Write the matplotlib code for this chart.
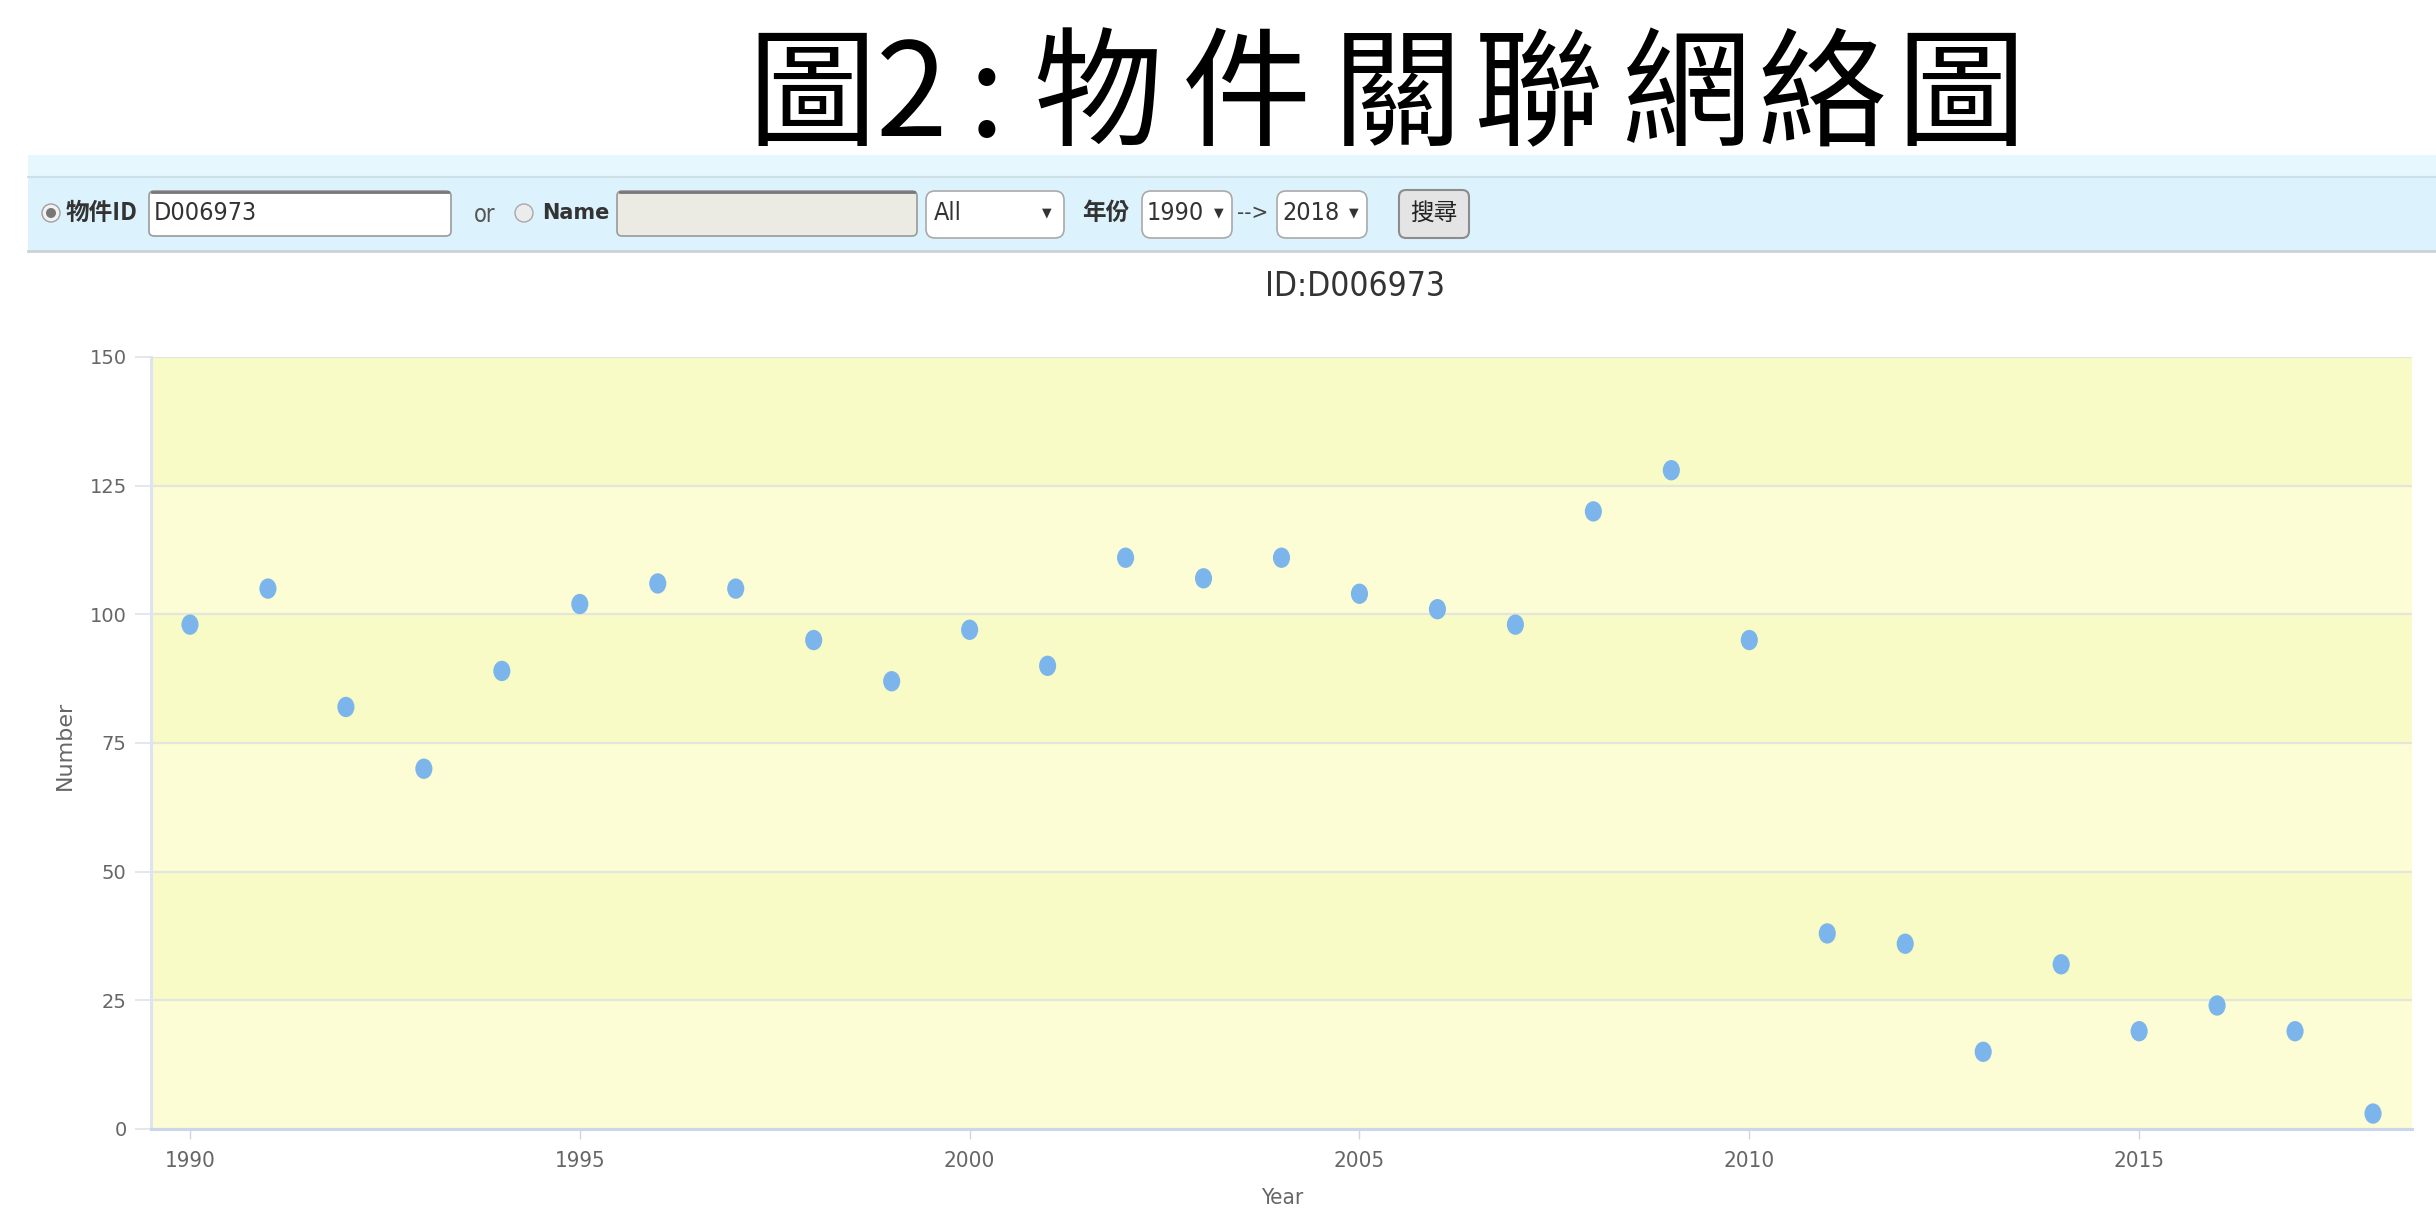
import matplotlib
matplotlib.use('Agg')
import matplotlib.pyplot as plt
from matplotlib import font_manager
from matplotlib.patches import FancyBboxPatch, Rectangle, Circle
from matplotlib.path import Path
from matplotlib.transforms import Affine2D

# data
years = list(range(1990, 2019))
counts = [98, 105, 82, 70, 89, 102, 106, 105, 95, 87, 97, 90, 111, 107, 111,
          104, 101, 98, 120, 128, 95, 38, 36, 15, 32, 19, 24, 19, 3]
y_ticks = [0, 25, 50, 75, 100, 125, 150]
x_ticks = [1990, 1995, 2000, 2005, 2010, 2015]

page_title = '圖2:物件關聯網絡圖'
chart_title = 'ID:D006973'
object_id = 'D006973'
category = 'All'
year_from = '1990'
year_to = '2018'

W, H = 2436, 1209
CJK = ['Noto Sans CJK TC', 'DejaVu Sans']

# look for a narrow upright latin face, the screenshot text is condensed
narrow_file = None
for f in font_manager.fontManager.ttflist:
    is_narrow = ('Narrow' in f.name or 'Condensed' in f.name or
                 f.stretch in ('condensed', 'semi-condensed'))
    if is_narrow and f.style == 'normal' and f.weight in (400, 'normal', 'regular', 'book'):
        narrow_file = f.fname
        break
if narrow_file:
    NARROW = font_manager.FontProperties(fname=narrow_file)
    tick_size, shrink = 16, 1.0
else:
    NARROW = font_manager.FontProperties(family='DejaVu Sans')
    tick_size, shrink = 13, 0.85

fig = plt.figure(figsize=(W / 100, H / 100), dpi=100)

# overlay in pixel coords (y down) for the page / toolbar
ui = fig.add_axes([0, 0, 1, 1])
ui.set_xlim(0, W)
ui.set_ylim(H, 0)
ui.set_axis_off()


def box(x0, y0, x1, y1, fc, ec, r=6, lw=1.2):
    ui.add_patch(FancyBboxPatch((x0, y0), x1 - x0, y1 - y0,
                                boxstyle='round,pad=0,rounding_size=%d' % r,
                                fc=fc, ec=ec, lw=lw))


def ntext(x, y, s, size, **kw):
    p = NARROW.copy()
    p.set_size(size * shrink)
    ui.text(x, y, s, fontproperties=p, va='center', **kw)


# big page title, glyphs placed one by one (screenshot is stretched)
title_x = [812, 912, 986, 1098, 1246, 1397, 1538, 1686, 1822, 1961]
for ch, cx in zip(page_title, title_x):
    ui.text(cx, 100, ch, family=CJK, fontsize=93, color='black',
            ha='center', va='center')

# toolbar band
ui.add_patch(Rectangle((28, 155), W - 28, 97, fc='#dcf2fc', ec='none'))
ui.add_patch(Rectangle((28, 155), W - 28, 22, fc='#e6f7fe', ec='none'))
ui.plot([28, W], [177, 177], color='#cde0e8', lw=1.5)
ui.plot([28, W], [251, 251], color='#c9d3d8', lw=2)

ty = 213
# radio (selected)
ui.add_patch(Circle((51, ty), 9, fc='#f2f2f2', ec='#a0a0a0', lw=1))
ui.add_patch(Circle((51, ty), 5, fc='#777777', ec='none'))
ui.text(66, ty, '物件ID', family=CJK, fontsize=17, fontweight='bold',
        color='#333333', va='center')
box(149, 191, 451, 236, 'white', '#9a9a9a', r=5)
ui.plot([152, 448], [192, 192], color='#777777', lw=2)
ntext(154, ty, object_id, 18, color='#333333')

ntext(474, ty + 2, 'or', 17, color='#555555')
ui.add_patch(Circle((524, ty), 9, fc='#ececec', ec='#a8a8a8', lw=1))
ui.text(542, ty, 'Name', family='DejaVu Sans', fontsize=15, fontweight='bold',
        color='#333333', va='center')
box(617, 191, 917, 236, '#ebebe4', '#9a9a9a', r=5)
ui.plot([620, 914], [192, 192], color='#777777', lw=2)

# selects
box(926, 191, 1064, 238, 'white', '#a9a9a9', r=9)
ntext(934, ty, category, 18, color='#333333')
ui.text(1047, ty, '▼', family='DejaVu Sans', fontsize=9, color='#333333', ha='center', va='center')

ui.text(1082, ty, '年份', family=CJK, fontsize=17, fontweight='bold',
        color='#333333', va='center')
box(1142, 191, 1232, 238, 'white', '#a9a9a9', r=9)
ntext(1147, ty, year_from, 18, color='#333333')
ui.text(1219, ty, '▼', family='DejaVu Sans', fontsize=9, color='#333333', ha='center', va='center')
ntext(1237, ty, '-->', 16, color='#444444')
box(1277, 191, 1367, 238, 'white', '#a9a9a9', r=9)
ntext(1282, ty, year_to, 18, color='#333333')
ui.text(1354, ty, '▼', family='DejaVu Sans', fontsize=9, color='#333333', ha='center', va='center')

# search button
box(1399, 190, 1469, 238, '#e4e4e4', '#8c8c8c', r=7, lw=1.5)
ui.text(1434, ty, '搜尋', family=CJK, fontsize=17, color='#222222',
        ha='center', va='center')

# chart title
tp = NARROW.copy()
tp.set_size(24 * shrink + (0 if narrow_file else 2))
fig.text(1355 / W, 1 - 287 / H, chart_title, fontproperties=tp,
         color='#333333', ha='center', va='center')

# main scatter chart
ax = fig.add_axes([151 / W, 1 - 1129 / H, (2412 - 151) / W, (1129 - 357) / H])
ax.set_facecolor('none')
band_colors = ['#fcfdd4', '#f8fbc5']
for i in range(len(y_ticks) - 1):
    ax.axhspan(y_ticks[i], y_ticks[i + 1], color=band_colors[i % 2], lw=0, zorder=0)

ellipse = Path.unit_circle().transformed(Affine2D().scale(0.84, 1.0))
ax.scatter(years, counts, marker=ellipse, s=215, color='#7cb5ec',
           edgecolors='none', zorder=3, clip_on=False)

ax.set_xlim(1989.5, 2018.5)
ax.set_ylim(0, 150)
ax.set_yticks(y_ticks)
ax.set_xticks(x_ticks)
ax.yaxis.grid(True, color='#e4e6dc', lw=1.6, zorder=1)
ax.set_axisbelow(True)

for s in ['top', 'right']:
    ax.spines[s].set_visible(False)
ax.spines['left'].set_color('#dde3f0')
ax.spines['left'].set_linewidth(2.2)
ax.spines['bottom'].set_color('#ccd6eb')
ax.spines['bottom'].set_linewidth(2.2)

ax.tick_params(axis='y', length=11.5, width=1.2, color='#dde3ee', pad=6,
               labelsize=14, labelcolor='#666666')
ax.tick_params(axis='x', length=7.5, width=1.0, color='#ccd6eb', pad=8,
               labelcolor='#666666')
for lab in ax.get_xticklabels():
    lab.set_fontproperties(NARROW)
    lab.set_fontsize(tick_size)

fig.text(65 / W, 1 - 745 / H, 'Number', family='DejaVu Sans', fontsize=16,
         color='#666666', rotation=90, ha='center', va='center')
yp = NARROW.copy()
yp.set_size(tick_size)
fig.text(1282 / W, 1 / H, 'Year', fontproperties=yp,
         color='#666666', ha='center', va='bottom')

fig.savefig('out.png', dpi=100)
